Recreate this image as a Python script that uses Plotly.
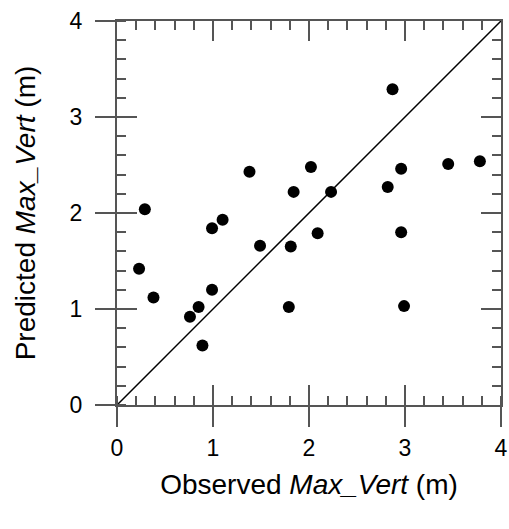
import plotly.graph_objects as go

observed = [2.87, 1.38, 2.02, 3.45, 3.78, 2.96, 2.82, 1.84, 2.23, 0.29, 1.10, 0.99,
            2.09, 2.96, 1.49, 1.81, 0.23, 0.38, 0.99, 0.85, 0.76, 1.79, 2.99, 0.89]
predicted = [3.29, 2.43, 2.48, 2.51, 2.54, 2.46, 2.27, 2.22, 2.22, 2.04, 1.93, 1.84,
             1.79, 1.80, 1.66, 1.65, 1.42, 1.12, 1.20, 1.02, 0.92, 1.02, 1.03, 0.62]
diag = [0, 4]
tick_vals = [0, 1, 2, 3, 4]
tick_text = ["0", "1", "2", "3", "4"]

FONT = "Arial, Liberation Sans, sans-serif"
AX = "#555555"

fig = go.Figure()
fig.add_trace(go.Scatter(x=diag, y=diag, mode="lines",
                         line=dict(color="black", width=1.5), showlegend=False,
                         hoverinfo="skip", cliponaxis=False))
fig.add_trace(go.Scatter(x=observed, y=predicted, mode="markers",
                         marker=dict(color="black", size=12), showlegend=False))
fig.add_trace(go.Scatter(x=[None], y=[None], xaxis="x2", yaxis="y2", showlegend=False))
fig.add_trace(go.Scatter(x=[None], y=[None], xaxis="x3", yaxis="y3", showlegend=False))

common = dict(range=[0, 4], tickvals=tick_vals, ticktext=tick_text, showgrid=False,
              zeroline=False, tickcolor=AX, tickwidth=2, ticklen=20, automargin=False)
minor = dict(ticks="inside", ticklen=9, dtick=0.2, tick0=0, tickcolor=AX, tickwidth=1.5, showgrid=False)

fig.update_layout(
    width=509, height=529,
    margin=dict(l=117, r=8, t=21, b=124),
    plot_bgcolor="white", paper_bgcolor="white",
    font=dict(family=FONT, size=23, color="black"),
    xaxis=dict(**common, side="bottom", ticks="outside", showline=True, linecolor=AX,
               linewidth=2, minor=minor, ticklabelstandoff=1,
               title=dict(text="Observed <i>Max_Vert</i> (m)", font=dict(size=28), standoff=15)),
    yaxis=dict(**common, side="left", ticks="outside", showline=True, linecolor=AX,
               linewidth=2, minor=minor, ticklabelstandoff=8,
               title=dict(text="Predicted <i>Max_Vert</i> (m)", font=dict(size=28), standoff=26)),
    xaxis2=dict(**common, overlaying="x", matches="x", anchor="y2", side="bottom",
                ticks="inside", showticklabels=False, showline=False),
    yaxis2=dict(**common, overlaying="y", matches="y", anchor="x2", side="left",
                ticks="inside", showticklabels=False, showline=False),
    xaxis3=dict(**common, overlaying="x", matches="x", anchor="y3", side="top",
                ticks="inside", showticklabels=False, showline=True, linecolor=AX,
                linewidth=2, minor=minor),
    yaxis3=dict(**common, overlaying="y", matches="y", anchor="x3", side="right",
                ticks="inside", showticklabels=False, showline=True, linecolor=AX,
                linewidth=2, minor=minor),
)

fig.write_html("out.html", config={"displayModeBar": False},
               post_script="document.body.style.margin='0';document.body.style.overflow='hidden';")
